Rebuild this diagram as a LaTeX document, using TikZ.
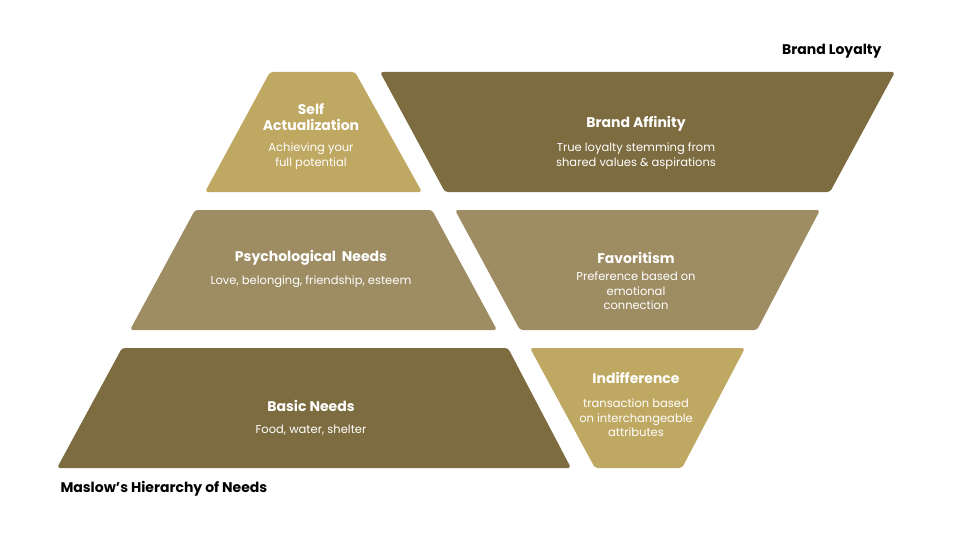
\documentclass[tikz,border=0pt]{standalone}
\usepackage{fontspec}
\setmainfont{Poppins}
\definecolor{dk}{HTML}{7D6C40}
\definecolor{md}{HTML}{9E8D63}
\definecolor{lt}{HTML}{BFA862}
\begin{document}
\begin{tikzpicture}[x=1pt,y=-1pt,
  shp/.style={rounded corners=3pt},
  ttl/.style={text=white,font=\fontsize{14}{16}\selectfont\bfseries,align=center},
  bdy/.style={text=white,font=\fontsize{11.5}{14.5}\selectfont,align=center},
  hdr/.style={text=black,font=\fontsize{14}{16}\selectfont\bfseries}]
\useasboundingbox (0,0) rectangle (960,540);
\fill[lt,shp] (270,72) -- (355,72) -- (422,192) -- (205,192) -- cycle;
\fill[dk,shp] (380,72) -- (895,72) -- (830,192) -- (445,192) -- cycle;
\fill[md,shp] (195,210) -- (432,210) -- (497,330) -- (130,330) -- cycle;
\fill[md,shp] (455,210) -- (820,210) -- (757,330) -- (520,330) -- cycle;
\fill[dk,shp] (122,348) -- (508,348) -- (571,468) -- (57,468) -- cycle;
\fill[lt,shp] (530,348) -- (745,348) -- (682,468) -- (595,468) -- cycle;
\node[hdr,anchor=east] (bl) at (885,51) {Brand Loyalty};
\node[hdr,anchor=west] (mh) at (57,489) {Maslow’s Hierarchy of Needs};
\node[ttl] (t1) at (311,117) {Self\\Actualization};
\node[bdy] (b1) at (311,156) {Achieving your\\full potential};
\node[ttl] (t2) at (636,124) {Brand Affinity};
\node[bdy] (b2) at (636,156) {True loyalty stemming from\\shared values \& aspirations};
\node[ttl] (t3) at (311,258) {Psychological\ \ Needs};
\node[bdy] (b3) at (311,282) {Love, belonging, friendship, esteem};
\node[ttl] (t4) at (636,258) {Favoritism};
\node[bdy] (b4) at (636,291) {Preference based on\\emotional\\connection};
\node[ttl] (t5) at (311,406) {Basic Needs};
\node[bdy] (b5) at (311,430) {Food, water, shelter};
\node[ttl] (t6) at (636,378) {Indifference};
\node[bdy] (b6) at (636,418) {transaction based\\on interchangeable\\attributes};
\end{tikzpicture}
\end{document}
